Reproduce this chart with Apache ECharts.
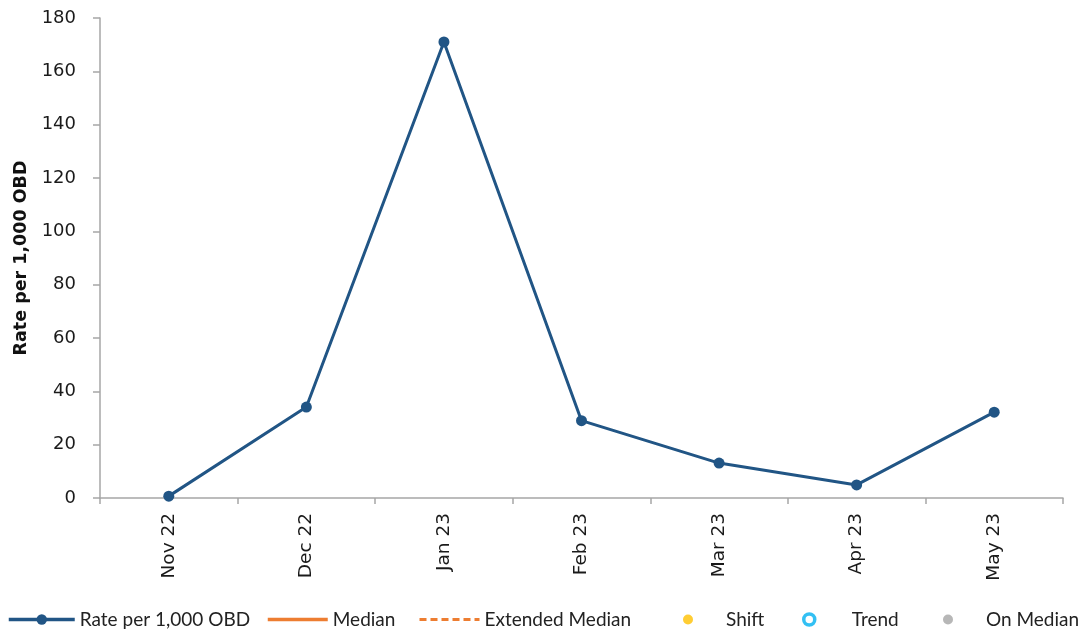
<!DOCTYPE html>
<html>
<head>
<meta charset="utf-8">
<script src="https://cdn.jsdelivr.net/npm/echarts@6/dist/echarts.min.js"></script>
<style>html,body{margin:0;padding:0;background:#fff}#c{width:1091px;height:635px}</style>
</head>
<body>
<div id="c"></div>
<script>
const categories = ['Nov 22','Dec 22','Jan 23','Feb 23','Mar 23','Apr 23','May 23'];
const rateValues = [0.7, 34.1, 171, 29, 13.1, 4.9, 32.2];
const medianValues = [];
const extendedMedianValues = [];
const shiftValues = [];
const trendValues = [];
const onMedianValues = [];
const yTicks = {min: 0, max: 180, interval: 20};

const chart = echarts.init(document.getElementById('c'), null, {renderer: 'canvas'});
const axisColor = '#a6a6a6';
const labelFont = 'DejaVu Sans, sans-serif';
const legendFont = 'Lato, Liberation Sans, sans-serif';
const legendText = {fontFamily: legendFont, fontSize: 19, color: '#222'};
const legTop = 605;
chart.setOption({
  animation: false,
  grid: {left: 100, right: 28, top: 18, bottom: 137, containLabel: false},
  xAxis: {
    type: 'category', data: categories, boundaryGap: true,
    axisLine: {lineStyle: {color: axisColor, width: 1.5}},
    axisTick: {show: true, length: 6, lineStyle: {color: axisColor, width: 1.5}},
    axisLabel: {rotate: 90, margin: 15, fontFamily: labelFont, fontSize: 18.5, color: '#1a1a1a'}
  },
  yAxis: {
    type: 'value', min: yTicks.min, max: yTicks.max, interval: yTicks.interval,
    name: 'Rate per 1,000 OBD', nameLocation: 'middle', nameGap: 68, nameRotate: 90,
    nameTextStyle: {fontFamily: labelFont, fontSize: 17.5, fontWeight: 'bold', color: '#111'},
    splitLine: {show: false},
    axisLine: {show: true, lineStyle: {color: axisColor, width: 1.5}},
    axisTick: {show: true, length: 7, lineStyle: {color: axisColor, width: 1.5}},
    axisLabel: {margin: 24, fontFamily: labelFont, fontSize: 18, color: '#1a1a1a'}
  },
  legend: [
    {data: ['Rate per 1,000 OBD'], left: 2, top: legTop, itemWidth: 66, itemHeight: 13, textStyle: legendText,
     lineStyle: {width: 3.5}},
    {data: [{name: 'Median', itemStyle: {opacity: 0}, lineStyle: {width: 3.5}}], left: 261, top: legTop, itemWidth: 60, itemHeight: 12, textStyle: legendText},
    {data: [{name: 'Extended Median', itemStyle: {opacity: 0}, lineStyle: {width: 3, type: [7, 4]}}], left: 413, top: legTop, itemWidth: 60, itemHeight: 12, textStyle: legendText},
    {data: [{name: 'Shift', icon: 'circle'}], left: 678, top: legTop, itemWidth: 10, itemHeight: 10, textStyle: Object.assign({padding: [0,0,0,28]}, legendText)},
    {data: [{name: 'Trend', icon: 'circle', itemStyle: {color: '#ffffff', borderColor: '#00B0F0', borderWidth: 3.5}}], left: 797, top: legTop, itemWidth: 11, itemHeight: 11, textStyle: Object.assign({padding: [0,0,0,32]}, legendText)},
    {data: [{name: 'On Median', icon: 'circle'}], left: 938, top: legTop, itemWidth: 10, itemHeight: 10, textStyle: Object.assign({padding: [0,0,0,28]}, legendText)}
  ],
  series: [
    {name: 'Rate per 1,000 OBD', type: 'line', data: rateValues, symbol: 'circle', symbolSize: 11,
     color: '#215585', lineStyle: {color: '#215585', width: 3}, itemStyle: {color: '#215585'}},
    {name: 'Median', type: 'line', data: medianValues, symbol: 'none', color: '#ED7D31', lineStyle: {color: '#ED7D31', width: 3}},
    {name: 'Extended Median', type: 'line', data: extendedMedianValues, symbol: 'none', color: '#ED7D31', lineStyle: {color: '#ED7D31', width: 3, type: [7, 4]}},
    {name: 'Shift', type: 'scatter', data: shiftValues, symbolSize: 10, itemStyle: {color: '#FFC000'}},
    {name: 'Trend', type: 'scatter', data: trendValues, symbolSize: 11, itemStyle: {color: '#ffffff', borderColor: '#00B0F0', borderWidth: 3.5}},
    {name: 'On Median', type: 'scatter', data: onMedianValues, symbolSize: 10, itemStyle: {color: '#A5A5A5'}}
  ]
});
</script>
</body>
</html>
